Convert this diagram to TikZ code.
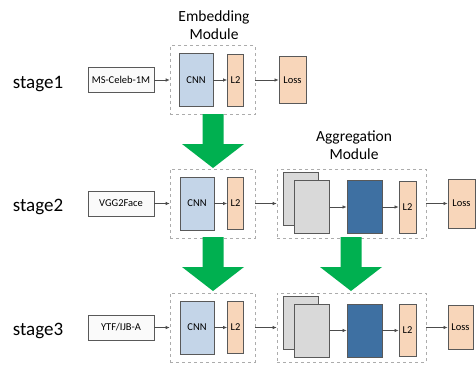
\documentclass[tikz,border=0pt]{standalone}
\usepackage{fontspec}
\setmainfont{Carlito}
\usetikzlibrary{arrows.meta}

\definecolor{cnnblue}{HTML}{C4D5E8}
\definecolor{peach}{HTML}{F8D6BA}
\definecolor{featgray}{HTML}{D9D9D9}
\definecolor{aggblue}{HTML}{3E70A2}
\definecolor{arrowgreen}{HTML}{00B050}
\definecolor{edgegray}{HTML}{595959}

\tikzset{
  blk/.style={draw=edgegray, line width=0.8pt, inner sep=0pt, font=\fontsize{10.5}{12}\selectfont},
  databox/.style={blk, fill=gray!4, minimum width=66pt, minimum height=25pt},
  cnnbox/.style={blk, fill=cnnblue, minimum width=34pt, minimum height=53pt},
  l2box/.style={blk, fill=peach, minimum width=16pt, minimum height=52pt},
  lossbox/.style={blk, fill=peach, minimum width=27pt},
  featbox/.style={blk, fill=featgray, minimum width=35pt, minimum height=53pt},
  aggbox/.style={blk, fill=aggblue, minimum width=35pt, minimum height=53pt},
  modframe/.style={draw=gray!65, dashed, line width=0.6pt, minimum height=69pt},
  flow/.style={draw=black!70, line width=0.7pt, -{Latex[length=4pt,width=3.5pt]}},
  stagelbl/.style={font=\fontsize{19}{22}\selectfont, anchor=base},
  modlbl/.style={font=\fontsize{15.5}{18}\selectfont, align=center, inner sep=0pt, anchor=north}
}

\begin{document}
\begin{tikzpicture}[x=1pt,y=-1pt]
\fill[white] (0,0) rectangle (476,364);
\useasboundingbox (0,0) rectangle (476,364);

% stage 1
\node[stagelbl] (st1) at (38,88) {stage1};
\node[databox] (data1) at (121,80) {MS-Celeb-1M};
\node[modframe, minimum width=85pt] (emb1) at (212.5,80) {};
\node[cnnbox] (cnn1) at (196,80) {CNN};
\node[l2box] (l2a) at (235.5,80) {L2};
\node[lossbox, minimum height=47pt] (loss1) at (292.5,80) {Loss};
\node[modlbl] (embl) at (214,11) {Embedding\\Module};

% stage 2
\node[stagelbl] (st2) at (38,211.5) {stage2};
\node[databox] (data2) at (121,203.5) {VGG2Face};
\node[modframe, minimum width=85pt] (emb2) at (212.5,203.5) {};
\node[cnnbox] (cnn2) at (197,203.5) {CNN};
\node[l2box] (l2b) at (235.5,203.5) {L2};
\node[modframe, minimum width=149pt] (agg2) at (351.5,203.5) {};
\node[featbox] (featb2) at (300.5,199) {};
\node[featbox] (featf2) at (312,207) {};
\node[aggbox] (aggnet2) at (364.5,207) {};
\node[l2box, minimum width=17pt] (l2c) at (407.5,207) {L2};
\node[lossbox, minimum height=49pt] (loss2) at (461.5,203.5) {Loss};
\node[modlbl] (aggl) at (354,131) {Aggregation\\Module};

% stage 3
\node[stagelbl] (st3) at (38,335.5) {stage3};
\node[databox] (data3) at (121,327.5) {YTF/IJB-A};
\node[modframe, minimum width=85pt] (emb3) at (212.5,327.5) {};
\node[cnnbox] (cnn3) at (197,327.5) {CNN};
\node[l2box] (l2d) at (235.5,327.5) {L2};
\node[modframe, minimum width=149pt] (agg3) at (351.5,327.5) {};
\node[featbox] (featb3) at (300.5,322.5) {};
\node[featbox] (featf3) at (312,330.5) {};
\node[aggbox] (aggnet3) at (364.5,330.5) {};
\node[l2box, minimum width=17pt] (l2e) at (407.5,330.5) {L2};
\node[lossbox, minimum height=44pt, minimum width=25pt] (loss3) at (460.5,327.5) {Loss};

% connectors
\draw[flow] (data1) -- (emb1);
\draw[flow] (cnn1) -- (l2a);
\draw[flow] (emb1) -- (loss1);
\draw[flow] (data2) -- (emb2);
\draw[flow] (cnn2) -- (l2b);
\draw[flow] (emb2) -- (agg2);
\draw[flow] (featf2) -- (aggnet2);
\draw[flow] (aggnet2) -- (l2c);
\draw[flow] (agg2) -- (loss2);
\draw[flow] (data3) -- (emb3);
\draw[flow] (cnn3) -- (l2d);
\draw[flow] (emb3) -- (agg3);
\draw[flow] (featf3) -- (aggnet3);
\draw[flow] (aggnet3) -- (l2e);
\draw[flow] (agg3) -- (loss3);

% big green arrows
\foreach \x/\y in {213/114, 213/237, 351/237}
  \fill[arrowgreen] (\x-10.5,\y) -- (\x+10.5,\y) -- (\x+10.5,\y+30) -- (\x+31,\y+30)
    -- (\x,\y+54) -- (\x-31,\y+30) -- (\x-10.5,\y+30) -- cycle;
\end{tikzpicture}
\end{document}
